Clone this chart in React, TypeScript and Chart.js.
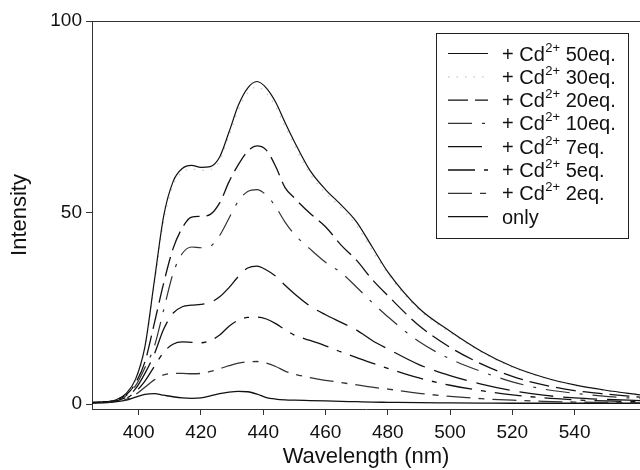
import React, { useEffect, useRef } from "react";
import { Chart, registerables } from "chart.js";

Chart.register(...registerables);

const wavelengths = [385, 390, 393, 396, 399, 402, 405, 408, 411, 414, 417, 420, 423, 426, 429, 432, 435, 438, 441, 444, 447, 450, 455, 460, 465, 470, 475, 480, 490, 500, 510, 520, 530, 540, 550, 561];

const cd50 = [0.4, 0.6, 1.2, 2.8, 6.5, 15, 32, 49, 58, 61.5, 62.3, 61.8, 62, 64.5, 71, 78, 82.5, 84.2, 82.5, 78.8, 73.5, 68.5, 61, 56, 52, 47.5, 41, 34.5, 25, 19, 13.8, 9.8, 7, 5, 3.6, 2.4];
const cd30 = [0.4, 0.6, 1.1, 2.6, 6.2, 14.5, 31, 47.5, 57, 60.5, 61.4, 61, 61.2, 63.5, 70, 76.8, 81.2, 82.8, 81.2, 77.6, 72.5, 67.5, 60.1, 55.1, 51.2, 46.5, 40.1, 34, 24.6, 18.7, 13.6, 9.6, 6.9, 4.9, 3.5, 2.3];
const cd20 = [0.4, 0.6, 1.1, 2.4, 5.5, 11, 21, 31.5, 40.5, 46, 48.8, 49, 49.5, 52.5, 58, 62.5, 66, 67.4, 66.3, 62, 56.5, 53.8, 49.8, 46.3, 41.5, 37.5, 32.5, 28.3, 20.5, 14.8, 10.5, 7.2, 5, 3.5, 2.6, 1.8];
const cd10 = [0.4, 0.6, 1, 2.2, 4.8, 9.5, 15, 24.5, 34, 39.3, 41, 40.8, 41.2, 44, 48.5, 53, 55.5, 56, 54.5, 51.5, 47.5, 44.3, 40.5, 37, 34.3, 30.5, 26.5, 22.8, 16.3, 11.8, 8.5, 5.8, 3.9, 2.8, 2, 1.4];
const cd7 = [0.4, 0.5, 0.9, 1.8, 4, 8, 13, 19.5, 23.7, 25.4, 25.8, 26, 26.5, 28, 30.4, 33.3, 35.5, 36, 35, 33.4, 31, 28.8, 25.6, 23.3, 21.3, 19.3, 16.6, 14.4, 10.3, 7.4, 5.2, 3.5, 2.3, 1.6, 1.2, 0.9];
const cd5 = [0.3, 0.5, 0.8, 1.5, 3.2, 6, 9.8, 13.5, 15.6, 16.2, 16.1, 16, 16.6, 18, 20.3, 21.9, 22.6, 22.7, 22.2, 21, 19.4, 18, 16.6, 15.2, 13.6, 12.1, 10.7, 9.3, 6.8, 4.9, 3.5, 2.4, 1.6, 1.1, 0.8, 0.6];
const cd2 = [0.3, 0.5, 0.7, 1.2, 2.5, 4.4, 6.3, 7.6, 8, 8, 7.9, 8, 8.5, 9.2, 10, 10.7, 11, 11.1, 10.7, 9.8, 8.6, 7.8, 6.9, 6.2, 5.6, 5, 4.4, 3.9, 2.8, 2, 1.4, 1, 0.7, 0.5, 0.4, 0.3];
const only = [0.3, 0.4, 0.6, 1, 1.8, 2.5, 2.7, 2.3, 1.9, 1.6, 1.5, 1.6, 2.1, 2.7, 3.1, 3.3, 3.2, 2.6, 1.7, 1.3, 1.1, 1.0, 0.9, 0.8, 0.7, 0.6, 0.5, 0.45, 0.35, 0.3, 0.25, 0.2, 0.2, 0.2, 0.2, 0.2];

const seriesValues = [cd50, cd30, cd20, cd10, cd7, cd5, cd2, only];
const ionText = "+ Cd";
const chargeText = "2+";
const seriesNames = ["50eq.", "30eq.", "20eq.", "10eq.", "7eq.", "5eq.", "2eq.", "only"];
const xTicks = [400, 420, 440, 460, 480, 500, 520, 540];
const yTicks = [0, 50, 100];

const styles = [
  { color: "#111", dash: [] as number[], width: 1.2 },
  { color: "#c4c4c4", dash: [1.5, 7], width: 1.2 },
  { color: "#111", dash: [20, 7], width: 1.3 },
  { color: "#333", dash: [24, 10, 3, 10], width: 1.2 },
  { color: "#111", dash: [34, 10], width: 1.3 },
  { color: "#111", dash: [27, 9, 5, 9], width: 1.3 },
  { color: "#333", dash: [24, 8, 6, 8], width: 1.3 },
  { color: "#111", dash: [] as number[], width: 1.3 },
];

const FONT = "'Liberation Sans', Arial, sans-serif";

const frameLegendPlugin = {
  id: "frameLegend",
  afterDraw(chart: any) {
    const ctx = chart.ctx;
    const a = chart.chartArea;
    ctx.save();
    ctx.strokeStyle = "#333";
    ctx.lineWidth = 1;
    ctx.setLineDash([]);
    ctx.beginPath();
    ctx.moveTo(a.left, a.top + 0.5);
    ctx.lineTo(a.right, a.top + 0.5);
    ctx.stroke();

    const bx = 436.5, by = 33.5, bw = 192, bh = 205;
    ctx.fillStyle = "#fff";
    ctx.fillRect(bx, by, bw, bh);
    ctx.strokeStyle = "#222";
    ctx.strokeRect(bx, by, bw, bh);

    chart.data.datasets.forEach((ds: any, i: number) => {
      const y = 53.5 + i * 23.3;
      ctx.strokeStyle = ds.borderColor;
      ctx.lineWidth = ds.borderWidth;
      ctx.setLineDash(ds.borderDash || []);
      ctx.beginPath();
      ctx.moveTo(448, y);
      ctx.lineTo(488, y);
      ctx.stroke();
      ctx.setLineDash([]);
      ctx.fillStyle = "#111";
      ctx.textBaseline = "alphabetic";
      ctx.textAlign = "left";
      const name = seriesNames[i];
      const base = y + 7;
      ctx.font = `20px ${FONT}`;
      if (name === "only") {
        ctx.fillText(name, 502, base);
      } else {
        ctx.fillText(ionText, 502, base);
        let x = 502 + ctx.measureText(ionText).width;
        ctx.font = `13px ${FONT}`;
        ctx.fillText(chargeText, x + 0.5, base - 9);
        x += ctx.measureText(chargeText).width + 0.5;
        ctx.font = `20px ${FONT}`;
        ctx.fillText(" " + name, x, base);
      }
    });
    ctx.restore();
  },
};

export default function App() {
  const ref = useRef<HTMLCanvasElement | null>(null);
  useEffect(() => {
    if (!ref.current) return;
    const chart = new Chart(ref.current, {
      type: "line",
      data: {
        datasets: seriesValues.map((vals, i) => ({
          label: seriesNames[i] === "only" ? "only" : `${ionText}${chargeText} ${seriesNames[i]}`,
          data: wavelengths.map((w, j) => ({ x: w, y: vals[j] })),
          borderColor: styles[i].color,
          borderWidth: styles[i].width,
          borderDash: styles[i].dash,
          pointRadius: 0,
          fill: false,
          cubicInterpolationMode: "monotone" as const,
        })),
      },
      options: {
        animation: false,
        responsive: false,
        devicePixelRatio: 1,
        layout: { padding: { top: 21, left: 0, right: 0, bottom: 0 } },
        plugins: { legend: { display: false }, tooltip: { enabled: false } },
        scales: {
          x: {
            type: "linear",
            min: 385,
            max: 561,
            afterBuildTicks: (s: any) => { s.ticks = xTicks.map((v) => ({ value: v })); },
            afterFit: (s: any) => { s.height = 61; s.paddingLeft = 0; s.paddingRight = 0; },
            grid: { display: true, drawOnChartArea: false, drawTicks: true, tickLength: 6, color: "#333" },
            border: { display: true, color: "#333", width: 1 },
            ticks: { color: "#111", font: { family: FONT, size: 19 }, padding: 6, maxRotation: 0, autoSkip: false },
            title: { display: true, text: "Wavelength (nm)", color: "#111", font: { family: FONT, size: 22 }, padding: { top: 0, bottom: 0 } },
          },
          y: {
            type: "linear",
            min: -1.3,
            max: 100,
            afterBuildTicks: (s: any) => { s.ticks = yTicks.map((v) => ({ value: v })); },
            afterFit: (s: any) => { s.width = 92; },
            grid: { display: true, drawOnChartArea: false, drawTicks: true, tickLength: 6, color: "#333" },
            border: { display: true, color: "#333", width: 1 },
            ticks: { color: "#111", font: { family: FONT, size: 19 }, padding: 4 },
            title: { display: true, text: "Intensity", color: "#111", font: { family: FONT, size: 22 }, padding: { top: 7, bottom: 0 } },
          },
        },
      },
      plugins: [frameLegendPlugin],
    });
    return () => chart.destroy();
  }, []);
  return (
    <div style={{ position: "absolute", left: 0, top: 0, width: 640, height: 470, background: "#fff" }}>
      <canvas ref={ref} width={640} height={470} style={{ width: 640, height: 470 }} />
    </div>
  );
}
